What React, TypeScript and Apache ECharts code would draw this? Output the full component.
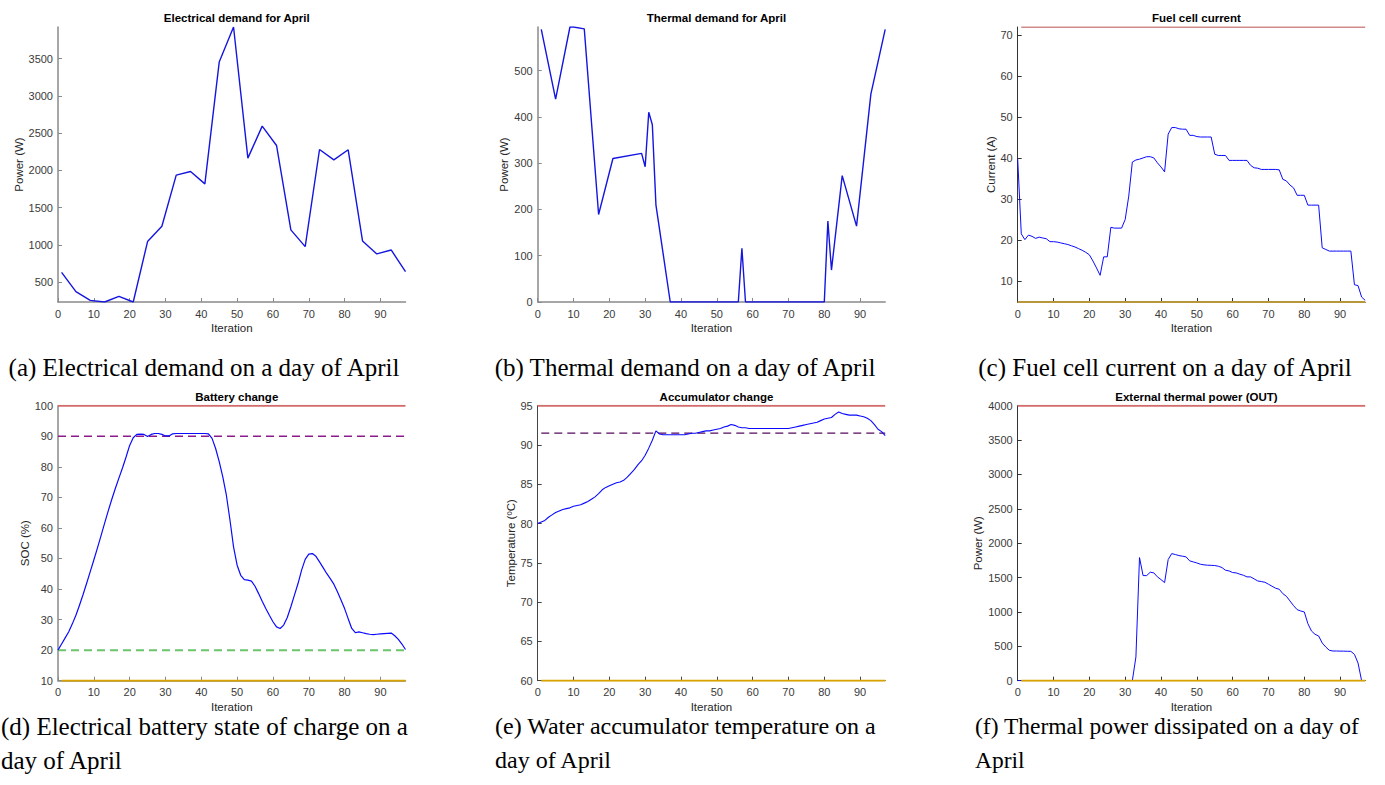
import { useEffect, useRef } from "react";
import * as echarts from "echarts";

// ---------- data ----------
const iterTicks = [0, 10, 20, 30, 40, 50, 60, 70, 80, 90];
const iterStart = 0;
const iterEnd = 97;

// (a) electrical demand
const elecX = [1, 5, 9, 13, 17, 21, 25, 29, 33, 37, 41, 45, 49, 53, 57, 61, 65, 69, 73, 77, 81, 85, 89, 93, 97];
const elecY = [630, 370, 253, 231, 307, 231, 1043, 1249, 1935, 1984, 1818, 3455, 3926, 2164, 2594, 2334, 1200, 975, 2280, 2141, 2276, 1052, 877, 930, 639];
const elecTicks = [500, 1000, 1500, 2000, 2500, 3000, 3500];

// (b) thermal demand
const thermX = [1, 5, 9, 10, 13, 17, 21, 29, 30, 31, 32, 33, 37, 56, 57, 58, 80, 81, 82, 85, 89, 93, 97];
const thermY = [589, 438, 594, 594, 590, 189, 310, 321, 292, 410, 383, 210, 0, 0, 116, 0, 0, 175, 69, 273, 164, 449, 589];
const thermTicks = [0, 100, 200, 300, 400, 500];

// (c) fuel cell current, iterations 0..97
const fcCurrent = [
  39.8, 21.6, 20.2, 21.3, 21.0, 20.5, 20.8, 20.6, 20.4, 19.7,
  19.7, 19.6, 19.4, 19.2, 19.0, 18.7, 18.4, 18.0, 17.6, 17.1,
  16.5, 15.0, 13.3, 11.5, 16.0, 16.0, 23.2, 23.0, 23.0, 23.0,
  25.1, 30.8, 39.1, 39.6, 39.8, 40.1, 40.4, 40.4, 40.1, 38.9,
  37.9, 36.7, 45.9, 47.5, 47.5, 47.2, 47.1, 47.1, 45.6, 45.6,
  45.3, 45.2, 45.2, 45.2, 45.2, 41.0, 40.7, 40.7, 40.7, 39.5,
  39.5, 39.5, 39.5, 39.5, 39.5, 38.3, 37.7, 37.6, 37.3, 37.3,
  37.3, 37.3, 37.3, 37.2, 34.9, 34.5, 33.5, 32.8, 31.0, 31.0,
  31.0, 28.6, 28.6, 28.6, 28.6, 18.2, 17.8, 17.4, 17.4, 17.4,
  17.4, 17.4, 17.4, 17.4, 9.2, 9.0, 6.2, 5.4,
];
const fcTicks = [10, 20, 30, 40, 50, 60, 70];
const fcMax = 72;
const fcMin = 5;

// (d) battery SOC, iterations 0..97
const soc = [
  20.0, 22.0, 24.0, 26.0, 28.6, 31.4, 34.7, 38.2, 41.9, 45.7,
  49.5, 53.4, 57.4, 61.5, 65.5, 69.3, 72.9, 76.3, 79.6, 83.2,
  87.0, 89.5, 90.6, 90.7, 90.6, 89.9, 90.6, 90.9, 90.9, 90.6,
  90.1, 90.1, 90.8, 90.9, 90.9, 90.9, 90.9, 90.9, 90.9, 90.9,
  90.9, 90.9, 90.8, 89.3, 86.0, 81.7, 76.7, 70.7, 62.6, 53.8,
  47.8, 44.5, 43.1, 42.9, 42.6, 40.9, 38.5, 36.0, 33.6, 31.4,
  29.3, 27.6, 27.1, 28.2, 30.7, 34.2, 38.0, 41.8, 46.2, 49.7,
  51.4, 51.6, 50.7, 48.9, 47.0, 45.1, 43.4, 41.6, 39.1, 36.4,
  33.6, 30.3, 27.1, 25.7, 26.0, 25.7, 25.4, 25.2, 25.1, 25.2,
  25.3, 25.4, 25.5, 25.6, 24.7, 23.5, 22.0, 20.2,
];
const socTicks = [10, 20, 30, 40, 50, 60, 70, 80, 90, 100];
const socMax = 100;
const socUpper = 90;
const socLower = 20;
const socMin = 10;

// (e) accumulator temperature, iterations 0..97
const temp = [
  80.0, 80.2, 80.4, 80.8, 81.1, 81.4, 81.6, 81.8, 81.9, 82.0,
  82.2, 82.3, 82.4, 82.6, 82.8, 83.1, 83.4, 83.8, 84.3, 84.6,
  84.8, 85.0, 85.2, 85.3, 85.5, 85.9, 86.4, 86.9, 87.5, 88.0,
  88.7, 89.6, 90.6, 91.8, 91.4, 91.3, 91.3, 91.3, 91.3, 91.3,
  91.3, 91.3, 91.4, 91.5, 91.5, 91.6, 91.7, 91.8, 91.8, 91.9,
  92.0, 92.1, 92.3, 92.4, 92.6, 92.5, 92.3, 92.2, 92.2, 92.1,
  92.1, 92.1, 92.1, 92.1, 92.1, 92.1, 92.1, 92.1, 92.1, 92.1,
  92.1, 92.2, 92.3, 92.4, 92.5, 92.6, 92.7, 92.8, 92.9, 93.1,
  93.3, 93.4, 93.5, 93.9, 94.2, 94.0, 93.9, 93.8, 93.8, 93.8,
  93.7, 93.6, 93.4, 93.1, 92.6, 92.0, 91.7, 91.2,
];
const tempTicks = [60, 65, 70, 75, 80, 85, 90, 95];
const tempMax = 95;
const tempRef = 91.5;
const tempMin = 60;

// (f) external thermal power, iterations 0..97
const pOut = [
  0, 0, 0, 0, 0, 0, 0, 0, 0, 0,
  0, 0, 0, 0, 0, 0, 0, 0, 0, 0,
  0, 0, 0, 0, 0, 0, 0, 0, 0, 0,
  0, 0, 0, 345, 1791, 1529, 1529, 1578, 1568, 1510,
  1471, 1427, 1762, 1849, 1835, 1820, 1811, 1801, 1743, 1728,
  1713, 1694, 1685, 1680, 1678, 1675, 1665, 1646, 1607, 1597,
  1573, 1568, 1549, 1534, 1510, 1510, 1481, 1451, 1442, 1432,
  1403, 1374, 1345, 1330, 1267, 1228, 1160, 1092, 1034, 1014,
  1000, 830, 723, 675, 650, 549, 490, 442, 432, 432,
  430, 430, 428, 427, 383, 257, 0, 0,
];
const pOutTicks = [0, 500, 1000, 1500, 2000, 2500, 3000, 3500, 4000];
const pOutMax = 4000;
const pOutMin = 0;

const panelTitles = [
  "Electrical demand for April",
  "Thermal demand for April",
  "Fuel cell current",
  "Battery change",
  "Accumulator change",
  "External thermal power (OUT)",
];
const yNames = ["Power (W)", "Power (W)", "Current (A)", "SOC (%)", "Temperature (ºC)", "Power (W)"];
const captionsTop = [
  "(a) Electrical demand on a day of April",
  "(b) Thermal demand on a day of April",
  "(c) Fuel cell current on a day of April",
];
const captionsBottom1 = [
  "(d) Electrical battery state of charge on a",
  "(e) Water accumulator temperature on a",
  "(f) Thermal power dissipated on a day of",
];
const captionsBottom2 = ["day of April", "day of April", "April"];

// ---------- layout ----------
const SANS = "Liberation Sans";
const SERIF = "Liberation Serif";
const colLeft = [58, 537.7, 1017.7];
const plotW = 347.5;
const rowTop = [27, 405.7];
const plotH = 275;
const yGap = [30, 27, 21, 27, 21, 28];
const axisCol = ["#8a8a8a", "#8a8a8a", "#333333", "#8a8a8a", "#444444", "#333333"];
const axisW = [1.5, 1.5, 1, 1.5, 1, 1];
const capBottomSize = [25, 24, 23.5];

const BLUE = "#0a0aff";
const RED_DARK = "#a31515";
const RED = "#d26c6c";
const ORANGE = "#d9a200";
const OLIVE = "#b8963e";
const PURPLE = "#8b1a8b";
const PURPLE_DARK = "#560a5e";
const GREEN = "#6cc46c";

function pairs(xs: number[], ys: number[]) {
  return ys.map((y, i) => [xs[i], y]);
}
function seq(ys: number[]) {
  return ys.map((y, i) => [iterStart + i, y]);
}
function hline(v: number, x0: number) {
  return [[x0, v], [iterEnd, v]];
}

export default function App() {
  const ref = useRef<HTMLDivElement>(null);
  useEffect(() => {
    if (!ref.current) return;
    const chart = echarts.init(ref.current, undefined, { renderer: "svg" });

    const grids: any[] = [];
    const xAxes: any[] = [];
    const yAxes: any[] = [];
    const titles: any[] = [];
    const yTicks = [elecTicks, thermTicks, fcTicks, socTicks, tempTicks, pOutTicks];
    const yMin: any[] = ["dataMin", 0, fcMin, socMin, tempMin, pOutMin];
    const yMax: any[] = ["dataMax", "dataMax", fcMax, socMax, tempMax, pOutMax];
    const plain = (v: number) => String(v);

    for (let i = 0; i < 6; i++) {
      const r = Math.floor(i / 3);
      const c = i % 3;
      grids.push({ left: colLeft[c], top: rowTop[r], width: plotW, height: plotH, containLabel: false });
      titles.push({
        text: panelTitles[i],
        left: colLeft[c] + plotW / 2,
        top: r === 0 ? 7 : 386,
        textAlign: "center",
        textStyle: { fontFamily: SANS, fontSize: 11.5, fontWeight: "bold", color: "#000" },
      });
      xAxes.push({
        type: "value",
        gridIndex: i,
        min: iterStart,
        max: iterEnd,
        name: "Iteration",
        nameLocation: "middle",
        nameGap: 20,
        nameTextStyle: { fontFamily: SANS, fontSize: 11.5, color: "#262626" },
        axisLine: { show: true, onZero: false, lineStyle: { color: axisCol[i], width: axisW[i] } },
        axisTick: { show: true, inside: true, length: 4, customValues: iterTicks, lineStyle: { color: axisCol[i] } },
        axisLabel: { customValues: iterTicks, formatter: plain, fontFamily: SANS, fontSize: 11, color: "#3a3a3a", margin: 6 },
        splitLine: { show: false },
      });
      yAxes.push({
        type: "value",
        gridIndex: i,
        min: yMin[i],
        max: yMax[i],
        name: yNames[i],
        nameLocation: "middle",
        nameGap: yGap[i],
        nameTextStyle: { fontFamily: SANS, fontSize: 11.5, color: "#262626" },
        axisLine: { show: true, onZero: false, lineStyle: { color: axisCol[i], width: axisW[i] } },
        axisTick: { show: true, inside: true, length: 4, customValues: yTicks[i], lineStyle: { color: axisCol[i] } },
        axisLabel: { customValues: yTicks[i], formatter: plain, fontFamily: SANS, fontSize: 11, color: "#3a3a3a", margin: 5 },
        splitLine: { show: false },
      });
    }

    const line = (idx: number, data: any[], color: string, width: number, type: any = "solid", z = 2) => ({
      type: "line",
      xAxisIndex: idx,
      yAxisIndex: idx,
      data,
      showSymbol: false,
      symbol: "none",
      z,
      lineStyle: { color, width, type },
      silent: true,
    });

    const series: any[] = [
      line(0, pairs(elecX, elecY), "#1515e0", 1.4),
      line(1, pairs(thermX, thermY), "#1515e0", 1.4),
      line(2, seq(fcCurrent), BLUE, 1, "solid", 3),
      line(2, hline(fcMax, 1), RED_DARK, 1.2),
      line(2, hline(fcMin, 0), OLIVE, 2, "solid", 4),
      line(3, seq(soc), BLUE, 1.2, "solid", 3),
      line(3, hline(socMax, 0), RED, 2),
      line(3, hline(socUpper, 0), PURPLE, 1.3, [8, 5]),
      line(3, hline(socLower, 0), GREEN, 2, [8, 5]),
      line(3, hline(socMin, 1), ORANGE, 2, "solid", 4),
      line(4, seq(temp), BLUE, 1.1, "solid", 3),
      line(4, hline(tempMax, 0), RED, 2),
      line(4, hline(tempRef, 1), PURPLE_DARK, 1.2, [8, 5]),
      line(4, hline(tempMin, 1), ORANGE, 2, "solid", 4),
      line(5, seq(pOut), BLUE, 1, "solid", 3),
      line(5, hline(pOutMax, 0), RED, 2),
      line(5, hline(pOutMin, 1), ORANGE, 2, "solid", 4),
    ];

    const capCenters = [204, 685, 1165];
    const capLefts = [1, 495, 975];
    const capStyle = { fontFamily: SERIF, fontSize: 25, fill: "#000", textVerticalAlign: "middle" };
    const graphic: any[] = [];
    captionsTop.forEach((t, i) =>
      graphic.push({ type: "text", x: capCenters[i], y: 367, style: { ...capStyle, text: t, textAlign: "center" } })
    );
    captionsBottom1.forEach((t, i) =>
      graphic.push({
        type: "text",
        x: capLefts[i],
        y: 726,
        style: { ...capStyle, fontSize: capBottomSize[i], text: t, textAlign: "left" },
      })
    );
    captionsBottom2.forEach((t, i) =>
      graphic.push({
        type: "text",
        x: capLefts[i],
        y: 760,
        style: { ...capStyle, fontSize: capBottomSize[i], text: t, textAlign: "left" },
      })
    );

    chart.setOption({
      animation: false,
      backgroundColor: "#ffffff",
      title: titles,
      grid: grids,
      xAxis: xAxes,
      yAxis: yAxes,
      series,
      graphic,
    });
    return () => chart.dispose();
  }, []);

  return (
    <div
      ref={ref}
      style={{ position: "fixed", left: 0, top: 0, width: 1385, height: 785, background: "#fff" }}
    />
  );
}
